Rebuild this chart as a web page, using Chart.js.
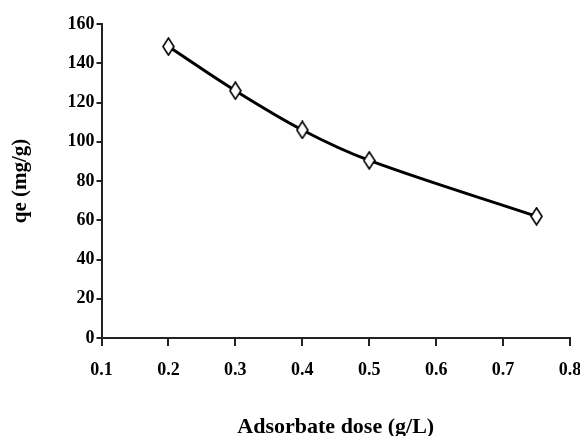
<!DOCTYPE html>
<html>
<head>
<meta charset="utf-8">
<script src="https://cdn.jsdelivr.net/npm/chart.js@4"></script>
<style>
  html, body { margin: 0; padding: 0; background: #fff; }
  #wrap { width: 580px; height: 436px; }
</style>
</head>
<body>
<div id="wrap"><canvas id="myChart" width="580" height="436"></canvas></div>
<script>
const doseArr = [0.2, 0.3, 0.4, 0.5, 0.75];
const qeArr = [148.5, 126, 106, 90.5, 62];
const xTitle = 'Adsorbate dose (g/L)';
const yTitle = 'qe (mg/g)';

// tall open diamond marker
const marker = document.createElement('canvas');
marker.width = 13;
marker.height = 19;
const mctx = marker.getContext('2d');
mctx.beginPath();
mctx.moveTo(6.5, 1);
mctx.lineTo(12, 9.5);
mctx.lineTo(6.5, 18);
mctx.lineTo(1, 9.5);
mctx.closePath();
mctx.fillStyle = '#fff';
mctx.fill();
mctx.lineWidth = 1.6;
mctx.strokeStyle = '#000';
mctx.stroke();

const font = { family: 'Liberation Serif', weight: 'bold' };

const data = {
  datasets: [
    {
      label: yTitle,
      data: doseArr.map((x, i) => ({ x, y: qeArr[i] })),
      borderColor: '#000',
      borderWidth: 3,
      tension: 0.35,
      pointStyle: marker,
      fill: false,
    },
  ],
};

const config = {
  type: 'line',
  data,
  options: {
    responsive: false,
    animation: false,
    layout: { padding: { top: 24, right: 0, left: 0, bottom: 0 } },
    plugins: {
      legend: { display: false },
      tooltip: { enabled: false },
    },
    scales: {
      x: {
        type: 'linear',
        min: 0.1,
        max: 0.8,
        afterFit: (s) => {
          s.height = 98;
          s.paddingRight = 10;
        },
        ticks: {
          stepSize: 0.1,
          color: '#000',
          padding: 14,
          font: { ...font, size: 18 },
          callback: (v) => v.toFixed(1),
        },
        grid: {
          drawOnChartArea: false,
          tickLength: 8,
          color: '#222',
          lineWidth: 2,
        },
        border: { color: '#222', width: 2 },
        title: {
          display: true,
          text: xTitle,
          color: '#000',
          font: { ...font, size: 22, lineHeight: 1 },
          padding: { top: 0, bottom: -2 },
        },
      },
      y: {
        min: 0,
        max: 160,
        afterFit: (s) => {
          s.width = 101.5;
        },
        ticks: {
          stepSize: 20,
          color: '#000',
          padding: 2,
          font: { ...font, size: 18 },
        },
        grid: {
          drawOnChartArea: false,
          tickLength: 5,
          color: '#222',
          lineWidth: 2,
        },
        border: { color: '#222', width: 2 },
        title: {
          display: true,
          text: yTitle,
          color: '#000',
          font: { ...font, size: 21, lineHeight: 1 },
          padding: { top: 10, bottom: 0 },
        },
      },
    },
  },
};

new Chart(document.getElementById('myChart'), config);
</script>
</body>
</html>
